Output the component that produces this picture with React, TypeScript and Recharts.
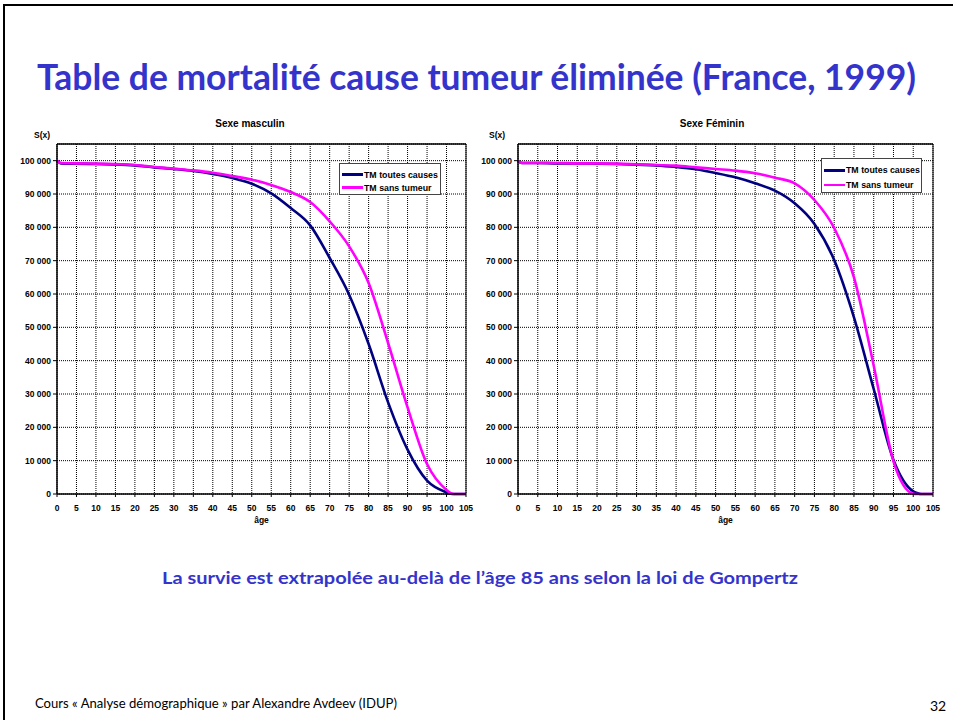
import { LineChart, Line, XAxis, YAxis, CartesianGrid, Legend, ReferenceLine } from "recharts";

// ages (années)
const ages = [0, 1, 5, 10, 15, 20, 25, 30, 35, 40, 45, 50, 55, 60, 65, 70, 75, 80, 85, 90, 95, 100, 101, 102, 105];

// Sexe masculin
const maleAll = [100000, 99200, 99100, 99000, 98900, 98600, 98000, 97500, 96900, 96000, 94800, 93100, 90200, 85800, 80600, 70800, 59800, 45000, 27500, 13300, 4000, 500, 100, 0, 0];
const maleNoTumour = [100000, 99300, 99200, 99100, 99000, 98700, 98100, 97600, 97100, 96400, 95400, 94300, 92700, 90600, 87600, 81800, 74300, 63300, 45300, 26000, 9000, 1200, 300, 0, 0];

// Sexe féminin
const femaleAll = [100000, 99300, 99300, 99200, 99200, 99100, 99000, 98800, 98600, 98100, 97400, 96300, 95000, 93200, 91000, 87200, 81000, 70200, 53000, 31500, 10200, 800, 300, 0, 0];
const femaleNoTumour = [100000, 99300, 99300, 99300, 99200, 99200, 99100, 98900, 98700, 98500, 98000, 97500, 97000, 96200, 94900, 93200, 88200, 79800, 65000, 38500, 9800, 100, 0, 0, 0];

const xTicks = [0, 5, 10, 15, 20, 25, 30, 35, 40, 45, 50, 55, 60, 65, 70, 75, 80, 85, 90, 95, 100, 105];
const yTicks = [0, 10000, 20000, 30000, 40000, 50000, 60000, 70000, 80000, 90000, 100000];

const seriesNames = ["TM toutes causes", "TM sans tumeur"];
const seriesColors = ["#000080", "#FF00FF"];

const BLUE = "#3434CC";
const ARIAL = "'Liberation Sans', Arial, sans-serif";

const buildRows = (all: number[], noTumour: number[]) =>
  ages.map((age, i) => ({ age, toutes: all[i], sans: noTumour[i] }));

const fmt = (v: number) => String(v).replace(/\B(?=(\d{3})+(?!\d))/g, " ");

function LegendBox({ width, height }: { width: number; height: number }) {
  return (
    <div
      style={{
        width,
        height,
        boxSizing: "border-box",
        border: "1px solid #444",
        background: "#fff",
        padding: "4px 0 0 2px",
        fontFamily: ARIAL,
        fontWeight: "bold",
        fontSize: 8.8,
        color: "#000",
      }}
    >
      {seriesNames.map((name, i) => (
        <div key={name} style={{ display: "flex", alignItems: "center", height: (height - 6) / 2 }}>
          <span style={{ display: "inline-block", width: 21, height: 2.5, background: seriesColors[i], marginRight: 1 }} />
          <span style={{ whiteSpace: "nowrap" }}>{name}</span>
        </div>
      ))}
    </div>
  );
}

interface PanelProps {
  rows: { age: number; toutes: number; sans: number }[];
  left: number;
  width: number;
  yAxisWidth: number;
  rightMargin: number;
  legend: { left: number; top: number; width: number; height: number };
}

function Panel({ rows, left, width, yAxisWidth, rightMargin, legend }: PanelProps) {
  const tickStyle = { fontSize: 8.5, fontWeight: "bold" as const, fill: "#000", fontFamily: ARIAL };
  return (
    <div style={{ position: "absolute", left, top: 100 }}>
      <LineChart width={width} height={440} data={rows} margin={{ top: 44, right: rightMargin, bottom: 16, left: 0 }}>
        <CartesianGrid stroke="#000" strokeDasharray="1 1" strokeWidth={1} />
        <XAxis
          dataKey="age"
          type="number"
          domain={[0, 105]}
          ticks={xTicks}
          interval={0}
          height={30}
          tick={tickStyle}
          tickSize={3}
          tickMargin={8}
          axisLine={{ stroke: "#000", strokeWidth: 1.5 }}
          tickLine={{ stroke: "#000" }}
          label={{ value: "âge", position: "insideBottom", offset: 1, style: { ...tickStyle } }}
        />
        <YAxis
          type="number"
          domain={[0, 105000]}
          ticks={yTicks}
          interval={0}
          width={yAxisWidth}
          tick={tickStyle}
          tickFormatter={fmt}
          tickSize={4}
          tickMargin={2}
          axisLine={{ stroke: "#000", strokeWidth: 1.5 }}
          tickLine={{ stroke: "#000" }}
        />
        <ReferenceLine y={105000} stroke="#000" strokeWidth={1.5} />
        <ReferenceLine x={105} stroke="#000" strokeWidth={1} />
        <Legend
          layout="vertical"
          align="center"
          verticalAlign="middle"
          wrapperStyle={{ left: legend.left, top: legend.top, width: legend.width, height: legend.height }}
          content={() => <LegendBox width={legend.width} height={legend.height} />}
        />
        <Line
          type="monotone"
          dataKey="toutes"
          name={seriesNames[0]}
          stroke={seriesColors[0]}
          strokeWidth={2.6}
          dot={false}
          isAnimationActive={false}
        />
        <Line
          type="monotone"
          dataKey="sans"
          name={seriesNames[1]}
          stroke={seriesColors[1]}
          strokeWidth={2.6}
          dot={false}
          isAnimationActive={false}
        />
      </LineChart>
    </div>
  );
}

const label = (text: string, cx: number, cy: number, size: number) => (
  <div
    style={{
      position: "absolute",
      left: cx - 60,
      top: cy - size * 0.6,
      width: 120,
      textAlign: "center",
      fontFamily: ARIAL,
      fontWeight: "bold",
      fontSize: size,
      lineHeight: `${size * 1.2}px`,
      color: "#000",
    }}
  >
    {text}
  </div>
);

export default function App() {
  return (
    <div style={{ position: "fixed", left: 0, top: 0, width: 953, height: 720, background: "#fff", overflow: "hidden" }}>
      {/* cadre de la diapositive */}
      <div style={{ position: "absolute", left: 3, top: 4, width: 960, height: 730, borderLeft: "2px solid #000", borderTop: "2px solid #000" }} />

      <svg width={953} height={720} style={{ position: "absolute", left: 0, top: 0 }}>
        <text x={37} y={90} fontFamily="Lato, 'Open Sans', sans-serif" fontWeight="bold" fontSize={36} fill={BLUE} textLength={879} lengthAdjust="spacingAndGlyphs">
          Table de mortalité cause tumeur éliminée (France, 1999)
        </text>
        <text x={162} y={584} fontFamily="Lato, 'Open Sans', sans-serif" fontWeight="bold" fontSize={17} fill={BLUE} textLength={636} lengthAdjust="spacingAndGlyphs">
          La survie est extrapolée au-delà de l’âge 85 ans selon la loi de Gompertz
        </text>
        <text x={35} y={708} fontFamily="Lato, 'Open Sans', sans-serif" fontSize={14} fill="#000" textLength={362} lengthAdjust="spacingAndGlyphs">
          Cours « Analyse démographique » par Alexandre Avdeev (IDUP)
        </text>
        <text x={930} y={711} fontFamily="Lato, 'Open Sans', sans-serif" fontSize={14} fill="#000">
          32
        </text>
      </svg>

      <Panel
        rows={buildRows(maleAll, maleNoTumour)}
        left={0}
        width={480}
        yAxisWidth={57}
        rightMargin={14}
        legend={{ left: 339, top: 63, width: 102, height: 32 }}
      />
      <Panel
        rows={buildRows(femaleAll, femaleNoTumour)}
        left={460}
        width={486}
        yAxisWidth={58}
        rightMargin={13}
        legend={{ left: 361, top: 58, width: 101, height: 35 }}
      />

      {label("Sexe masculin", 250, 124, 10)}
      {label("Sexe Féminin", 712, 124, 10)}
      {label("S(x)", 42, 135, 8.5)}
      {label("S(x)", 497, 135, 8.5)}
    </div>
  );
}
